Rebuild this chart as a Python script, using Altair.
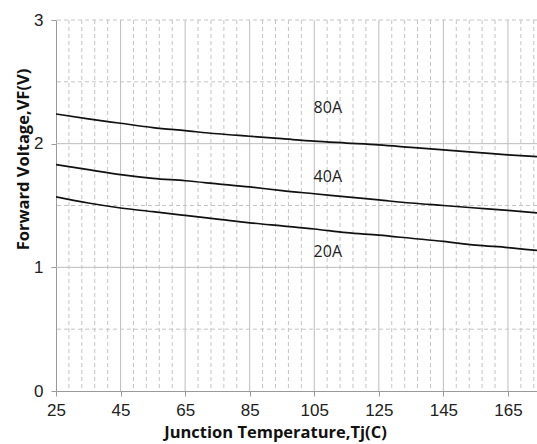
import altair as alt
import pandas as pd

# Junction temperature (C)
temps = [25, 35, 45, 55, 65, 75, 85, 95, 105, 115, 125, 135, 145, 155, 165, 174]
# Forward voltage (V) per current
vf_80 = [2.24, 2.20, 2.165, 2.13, 2.105, 2.08, 2.06, 2.04, 2.02, 2.005, 1.99, 1.97, 1.95, 1.93, 1.91, 1.895]
vf_40 = [1.83, 1.79, 1.75, 1.72, 1.70, 1.675, 1.65, 1.62, 1.595, 1.57, 1.545, 1.52, 1.50, 1.48, 1.46, 1.44]
vf_20 = [1.57, 1.52, 1.48, 1.45, 1.42, 1.39, 1.36, 1.335, 1.31, 1.28, 1.26, 1.235, 1.21, 1.18, 1.16, 1.137]
series = ["80A", "40A", "20A"]

label_T = [109.2, 109.2, 109.2]
label_V = [2.29, 1.73, 1.12]

x_ticks = [25, 45, 65, 85, 105, 125, 145, 165]
y_ticks = [0, 1, 2, 3]
x_minor = [v for v in range(25, 175, 4) if (v - 25) % 20 != 0]
y_major_grid = [1, 2]
y_minor_grid = [0.5, 1.5, 2.5, 3]

rows = []
for name, vals in zip(series, [vf_80, vf_40, vf_20]):
    for t, v in zip(temps, vals):
        rows.append({"T": t, "VF": v, "I": name})
df = pd.DataFrame(rows)
lab = pd.DataFrame({"T": label_T, "VF": label_V, "txt": series})

xs = alt.Scale(domain=[25, 174], nice=False, zero=False)
ys = alt.Scale(domain=[0, 3], nice=False)

TICK_FONT = "Liberation Sans Narrow, Arial Narrow, Liberation Sans"

minor_x = alt.Chart(pd.DataFrame({"x": x_minor})).mark_rule(
    color="#c4c4c4", strokeWidth=1, strokeDash=[4, 3]
).encode(x=alt.X("x:Q", scale=xs))
major_x = alt.Chart(pd.DataFrame({"x": x_ticks[1:]})).mark_rule(
    color="#bdbdbd", strokeWidth=1
).encode(x=alt.X("x:Q", scale=xs))
minor_y = alt.Chart(pd.DataFrame({"y": y_minor_grid})).mark_rule(
    color="#c4c4c4", strokeWidth=1, strokeDash=[4, 3]
).encode(y=alt.Y("y:Q", scale=ys))
major_y = alt.Chart(pd.DataFrame({"y": y_major_grid})).mark_rule(
    color="#bdbdbd", strokeWidth=1
).encode(y=alt.Y("y:Q", scale=ys))

lines = alt.Chart(df).mark_line(color="#111111", strokeWidth=1.7, interpolate="monotone", clip=True).encode(
    x=alt.X("T:Q", scale=xs, axis=alt.Axis(
        values=x_ticks, format="d", title="Junction Temperature,Tj(C)", grid=False,
        domainColor="#9a9a9a", tickColor="#9a9a9a", tickSize=5,
        labelFont=TICK_FONT, labelFontSize=17, labelColor="#222222",
        labelPadding=6, labelFlush=False,
        titleFont="Open Sans", titleFontSize=16.5, titleFontWeight="bold",
        titleColor="#111111", titleX=219, titleY=46, titleBaseline="alphabetic",
        titleAlign="center")),
    y=alt.Y("VF:Q", scale=ys, axis=alt.Axis(
        values=y_ticks, format="d", title="Forward Voltage,VF(V)", grid=False,
        domainColor="#9a9a9a", tickColor="#9a9a9a", tickSize=5,
        labelFont=TICK_FONT, labelFontSize=17, labelColor="#222222",
        labelPadding=8, labelFlush=False,
        titleFont="Open Sans", titleFontSize=16.5, titleFontWeight="bold",
        titleColor="#111111", titleX=-28, titleY=139, titleBaseline="alphabetic",
        titleAlign="center", titleAngle=270)),
    detail="I:N",
)

texts = alt.Chart(lab).mark_text(font="Open Sans", fontSize=16, color="#222222", align="center", baseline="middle").encode(
    x=alt.X("T:Q", scale=xs), y=alt.Y("VF:Q", scale=ys), text="txt:N"
)

chart = alt.layer(minor_x, major_x, minor_y, major_y, lines, texts).properties(
    width=481, height=371,
    autosize=alt.AutoSizeParams(type="none"),
    padding={"left": 56, "top": 20, "right": 0, "bottom": 53},
    background="white",
).configure_view(stroke=None)

chart.save("out.html", embed_options={"renderer": "svg", "actions": False})
